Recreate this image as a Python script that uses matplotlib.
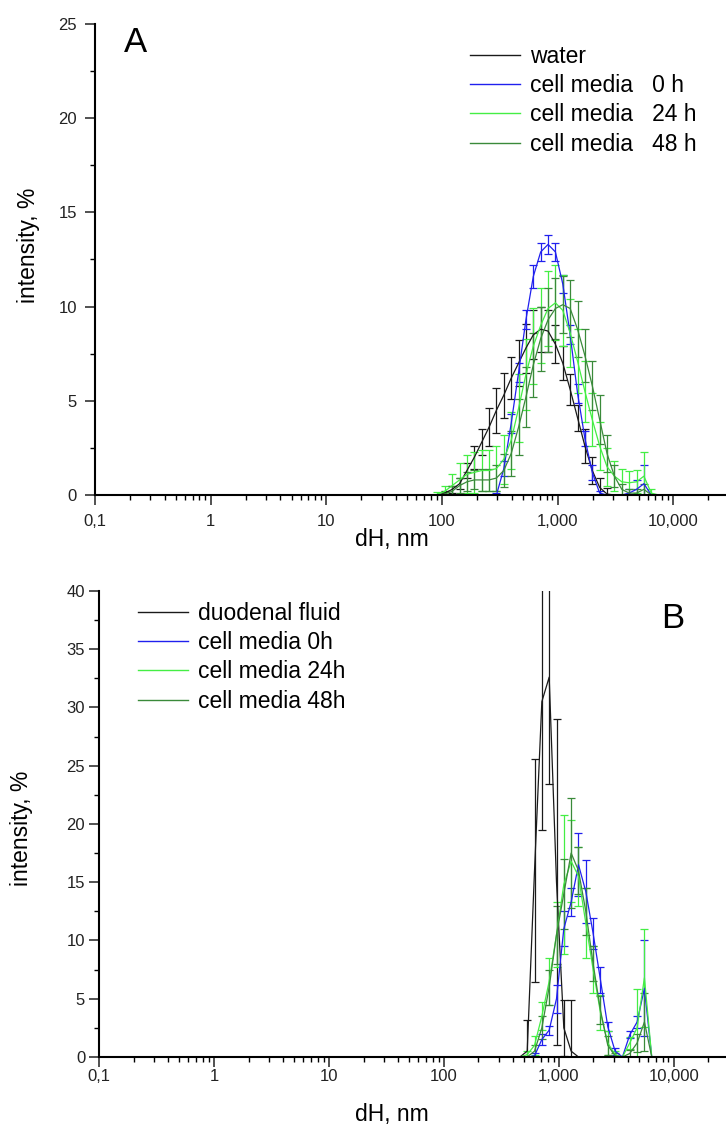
import numpy as np
import matplotlib
matplotlib.use('Agg')
import matplotlib.pyplot as plt
from matplotlib.lines import Line2D
from matplotlib.ticker import LogLocator, FixedLocator, FixedFormatter, MultipleLocator, NullFormatter

plt.rcParams['font.family'] = ['Liberation Sans', 'DejaVu Sans']

# ---- data: panel A (size bins in nm, intensity in %) ----
size_a = [91.28, 105.7, 122.4, 141.8, 164.2, 190.1, 220.2, 255.0, 295.3, 342.0, 396.1,
          458.7, 531.2, 615.1, 712.4, 825.0, 955.4, 1106, 1281, 1484, 1718, 1990, 2305,
          2669, 3091, 3580, 4145, 4801, 5560, 6439, 7456]
water = [0, 0.1, 0.3, 0.6, 1.3, 2.0, 2.8, 3.6, 4.5, 5.3, 6.2, 7.0, 7.8, 8.5, 8.8, 8.7,
         8.0, 7.0, 5.6, 4.1, 2.6, 1.3, 0.4, 0.05, 0, 0, 0, 0, 0, 0, 0]
water_err = [0, 0.1, 0.2, 0.3, 0.4, 0.6, 0.7, 1.0, 1.2, 1.2, 1.1, 1.2, 1.3, 1.3, 1.2, 1.1,
             1.0, 0.9, 0.8, 0.7, 0.9, 0.7, 0.5, 0.3, 0, 0, 0, 0, 0, 0, 0]
cm0_a = [0, 0, 0, 0, 0, 0, 0, 0, 0, 1.4, 3.8, 6.5, 9.3, 11.6, 12.9, 13.3, 12.9, 11.2,
         8.5, 5.4, 3.0, 1.2, 0.1, 0, 0, 0, 0.1, 0.3, 0.6, 0, 0]
cm0_a_err = [0, 0, 0, 0, 0, 0, 0, 0, 0.1, 0.4, 0.5, 0.5, 0.5, 0.6, 0.5, 0.5, 0.5, 0.5,
             0.5, 0.5, 0.4, 0.4, 0.1, 0, 0, 0, 0.2, 0.5, 1.0, 0, 0]
cm24_a = [0.05, 0.2, 0.5, 0.8, 1.1, 1.2, 1.3, 1.3, 1.4, 1.9, 2.9, 4.6, 6.4, 7.9, 9.0,
          9.9, 10.2, 9.8, 8.6, 7.1, 5.5, 4.0, 2.6, 1.5, 1.0, 0.7, 0.65, 0.7, 1.0, 0.1, 0]
cm24_a_err = [0.1, 0.3, 0.6, 0.9, 1.0, 1.1, 1.1, 1.1, 1.2, 1.3, 1.5, 1.8, 1.9, 2.0, 2.0,
              2.0, 2.0, 1.9, 1.8, 1.7, 1.6, 1.4, 1.3, 1.0, 0.8, 0.7, 0.6, 0.6, 1.3, 0.2, 0]
cm48_a = [0, 0.05, 0.2, 0.5, 0.7, 0.8, 0.8, 0.8, 0.9, 1.3, 2.2, 3.6, 5.2, 6.9, 8.3, 9.3,
          9.9, 10.1, 9.9, 8.8, 7.4, 5.8, 4.0, 2.2, 1.0, 0.3, 0.1, 0.1, 0.3, 0, 0]
cm48_a_err = [0, 0.1, 0.3, 0.4, 0.5, 0.5, 0.6, 0.6, 0.7, 0.9, 1.2, 1.5, 1.6, 1.7, 1.7,
              1.7, 1.6, 1.5, 1.5, 1.5, 1.4, 1.3, 1.3, 1.0, 0.6, 0.3, 0.2, 0.2, 0.3, 0, 0]

# ---- data: panel B ----
size_b = [396.1, 458.7, 531.2, 615.1, 712.4, 825.0, 955.4, 1106, 1281, 1484, 1718, 1990,
          2305, 2669, 3091, 3580, 4145, 4801, 5560, 6439, 7456]
duod = [0, 0, 0.5, 16.0, 30.5, 32.6, 15.0, 2.5, 0.5, 0, 0, 0, 0, 0, 0, 0, 0, 0, 0, 0, 0]
duod_err = [0, 0, 2.7, 9.6, 11.0, 9.2, 14.0, 2.4, 4.4, 0, 0, 0, 0, 0, 0, 0, 0, 0, 0, 0, 0]
cm0_b = [0, 0, 0, 0.1, 1.5, 2.3, 5.0, 11.0, 13.3, 16.5, 14.2, 10.6, 6.6, 2.6, 0.5, 0,
         1.9, 3.0, 5.9, 0, 0]
cm0_b_err = [0, 0, 0, 0.2, 0.5, 0.4, 1.2, 1.5, 1.2, 2.7, 2.7, 1.3, 1.1, 0.4, 0.3, 0,
             0.3, 0.5, 4.1, 0, 0]
cm24_b = [0, 0, 0.2, 1.0, 3.5, 6.5, 10.5, 14.8, 16.8, 15.5, 11.5, 7.5, 3.8, 1.2, 0.2, 0,
          1.2, 2.5, 6.8, 0, 0]
cm24_b_err = [0, 0, 0.3, 0.8, 1.2, 2.0, 2.8, 6.0, 3.5, 2.5, 3.0, 2.0, 1.5, 1.0, 0.3, 0,
              0.5, 3.3, 4.2, 0, 0]
cm48_b = [0, 0, 0, 0.5, 2.5, 6.0, 10.5, 14.0, 17.5, 16.0, 12.5, 8.0, 4.0, 1.0, 0.1, 0,
          0.3, 1.2, 3.0, 0, 0]
cm48_b_err = [0, 0, 0, 0.5, 1.0, 1.5, 2.5, 3.0, 4.7, 2.0, 2.0, 1.5, 1.2, 0.8, 0.2, 0,
              0.3, 0.8, 2.5, 0, 0]

x_ticks = [0.1, 1, 10, 100, 1000, 10000]
x_ticklabels = ['0,1', '1', '10', '100', '1,000', '10,000']

colors = ['#1a1a1a', '#2020ee', '#44ee44', '#3a8a3a']

fig = plt.figure(figsize=(7.26, 11.26), dpi=100)
axA = fig.add_axes([0.1309, 0.5604, 0.8691, 0.4183])
axB = fig.add_axes([0.1364, 0.0613, 0.8636, 0.4139])


def style_axis(ax, ymax, ypad, xpad):
    ax.set_xscale('log')
    ax.set_xlim(0.1, 28500)
    ax.set_ylim(0, ymax)
    for s in ['top', 'right']:
        ax.spines[s].set_visible(False)
    for s in ['left', 'bottom']:
        ax.spines[s].set_linewidth(1.5)
    ax.xaxis.set_major_locator(FixedLocator(x_ticks))
    ax.xaxis.set_major_formatter(FixedFormatter(x_ticklabels))
    ax.xaxis.set_minor_locator(LogLocator(base=10, subs=np.arange(2, 10), numticks=20))
    ax.xaxis.set_minor_formatter(NullFormatter())
    ax.yaxis.set_major_locator(MultipleLocator(5))
    ax.yaxis.set_minor_locator(MultipleLocator(2.5))
    ax.tick_params(which='major', direction='out', length=7, width=1.1, labelsize=12,
                   colors='#222222')
    ax.tick_params(which='minor', direction='out', length=3.6, width=1.0)
    ax.tick_params(axis='y', which='major', pad=ypad)
    ax.tick_params(axis='x', which='major', pad=xpad)


def draw_series(ax, x, ys, errs):
    for y, e, c in zip(ys, errs, colors):
        ax.errorbar(x, y, yerr=e, color=c, lw=0.9, elinewidth=0.9, capsize=2.6,
                    capthick=0.9, clip_on=True)


style_axis(axA, 25, 6, 7)
draw_series(axA, size_a, [water, cm0_a, cm24_a, cm48_a],
            [water_err, cm0_a_err, cm24_a_err, cm48_a_err])
axA.set_xlabel('dH, nm', fontsize=16.5)
axA.set_ylabel('intensity, %', fontsize=16.5)
axA.xaxis.set_label_coords(0.471, -0.07)
axA.yaxis.set_label_coords(-0.087, 0.53)
fig.text(136 / 726, 1 - 43 / 1126, 'A', fontsize=25, ha='center', va='center')

handles = [Line2D([], [], color=c, lw=1.0) for c in colors]
axA.legend(handles, ['water', 'cell media   0 h', 'cell media   24 h', 'cell media   48 h'],
           loc='upper left', bbox_to_anchor=(470 / 726, 1 - 45 / 1126),
           bbox_transform=fig.transFigure, frameon=False, fontsize=16.5,
           handlelength=2.2, handletextpad=0.4, labelspacing=0.27, borderpad=0,
           borderaxespad=0)

style_axis(axB, 40, 3, 2)
draw_series(axB, size_b, [duod, cm0_b, cm24_b, cm48_b],
            [duod_err, cm0_b_err, cm24_b_err, cm48_b_err])
axB.set_xlabel('dH, nm', fontsize=16.5)
axB.set_ylabel('intensity, %', fontsize=16.5)
axB.xaxis.set_label_coords(0.467, -0.098)
axB.yaxis.set_label_coords(-0.105, 0.49)
fig.text(673 / 726, 1 - 619 / 1126, 'B', fontsize=25, ha='center', va='center')
axB.legend(handles, ['duodenal fluid', 'cell media 0h', 'cell media 24h', 'cell media 48h'],
           loc='upper left', bbox_to_anchor=(138 / 726, 1 - 602 / 1126),
           bbox_transform=fig.transFigure, frameon=False, fontsize=16.5,
           handlelength=2.2, handletextpad=0.4, labelspacing=0.27, borderpad=0,
           borderaxespad=0)

fig.savefig('out.png', dpi=100)
